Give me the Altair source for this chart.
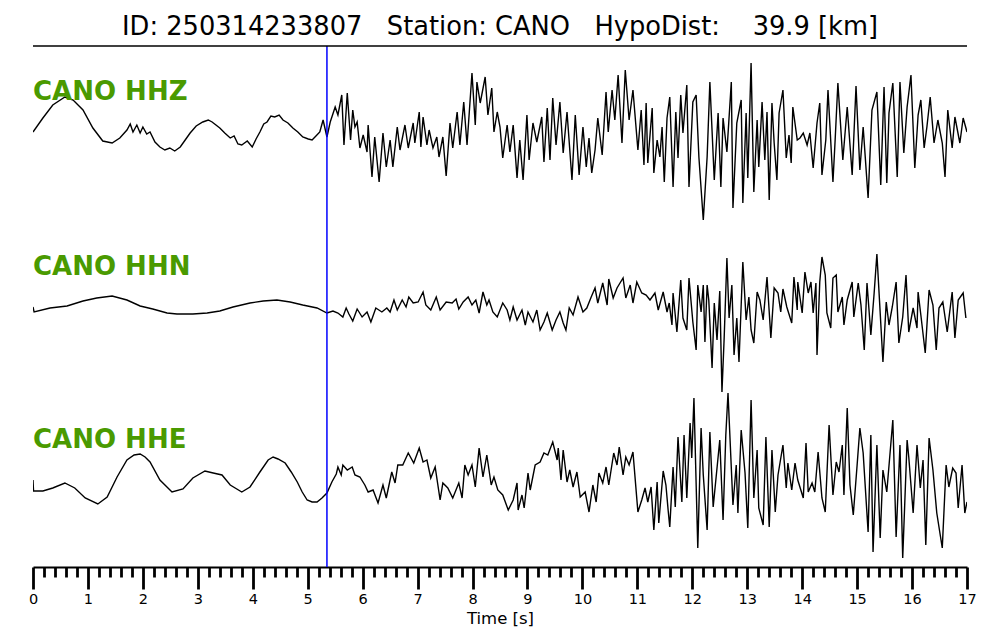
import altair as alt
import pandas as pd

TITLE = "ID: 250314233807\u00a0\u00a0\u00a0Station: CANO\u00a0\u00a0\u00a0HypoDist:\u00a0\u00a0\u00a0\u00a039.9 [km]"
channels = ["CANO HHZ", "CANO HHN", "CANO HHE"]
offsets = [0, -180, -360]
pick_time = [5.35]
tick_values = [round(i * 0.2, 1) for i in range(86)]

# (time [s], amplitude)
hhz = [(0.00,-2),(0.18,12),(0.36,25),(0.58,33),(0.73,30),(0.91,20),(1.09,2),(1.27,-11),(1.44,-13),(1.58,-8),(1.71,0),(1.77,6),(1.82,-2),(1.89,5),(1.95,-3),(2.00,3),(2.07,-4),(2.13,-2),(2.22,-12),(2.31,-17),(2.40,-20),(2.49,-18),(2.58,-21),(2.68,-17),(2.77,-10),(2.86,-3),(2.97,4),(3.09,8),(3.19,10),(3.26,8),(3.33,5),(3.40,2),(3.49,-3),(3.59,-8),(3.66,-6),(3.73,-14),(3.80,-15),(3.90,-11),(3.99,-17),(4.06,-9),(4.13,-2),(4.20,6),(4.26,8),(4.33,14),(4.40,13),(4.48,15),(4.55,10),(4.64,7),(4.73,2),(4.82,-2),(4.91,-7),(5.01,-9),(5.08,-10),(5.15,-6),(5.22,-2),(5.28,10),(5.35,-7),(5.41,8),(5.50,23),(5.55,15),(5.62,35),(5.66,-15),(5.72,37),(5.78,-10),(5.82,20),(5.86,3),(5.90,8),(5.95,-18),(6.01,-5),(6.08,-22),(6.10,5),(6.17,-47),(6.22,-7),(6.30,-52),(6.37,-3),(6.43,-37),(6.50,-10),(6.55,-37),(6.63,3),(6.68,-20),(6.77,5),(6.83,-18),(6.92,7),(6.95,-13),(7.03,18),(7.06,-17),(7.10,13),(7.17,-15),(7.21,0),(7.28,-18),(7.35,-7),(7.39,-27),(7.46,-7),(7.52,-46),(7.59,7),(7.64,-18),(7.72,18),(7.77,-15),(7.84,28),(7.90,-15),(7.99,57),(8.05,5),(8.08,48),(8.14,27),(8.23,53),(8.28,15),(8.35,42),(8.39,-2),(8.45,18),(8.50,3),(8.55,-28),(8.63,5),(8.68,-22),(8.74,5),(8.81,-48),(8.86,-10),(8.92,-50),(8.99,15),(9.03,-30),(9.10,7),(9.17,-12),(9.26,13),(9.30,-32),(9.36,22),(9.41,-30),(9.46,32),(9.52,-15),(9.59,28),(9.65,-23),(9.72,18),(9.81,-50),(9.87,15),(9.94,-45),(10.01,3),(10.07,-37),(10.12,-8),(10.17,-43),(10.23,-20),(10.28,12),(10.36,-25),(10.43,38),(10.47,-2),(10.54,40),(10.59,10),(10.65,55),(10.72,-13),(10.78,60),(10.85,10),(10.92,40),(11.01,-20),(11.07,20),(11.12,-35),(11.16,27),(11.19,-33),(11.27,22),(11.30,-43),(11.36,-10),(11.41,-27),(11.45,3),(11.49,-52),(11.54,12),(11.59,33),(11.65,-57),(11.70,18),(11.74,-28),(11.79,35),(11.83,-3),(11.90,45),(11.94,-57),(12.01,28),(12.07,35),(12.12,-27),(12.20,-90),(12.27,-27),(12.32,48),(12.40,-50),(12.47,17),(12.52,-57),(12.56,12),(12.63,-22),(12.71,48),(12.74,-78),(12.81,7),(12.89,30),(12.92,-73),(12.98,17),(13.01,-48),(13.07,67),(13.12,-62),(13.18,10),(13.21,-37),(13.27,28),(13.32,-30),(13.36,18),(13.40,-70),(13.45,27),(13.49,-13),(13.54,-50),(13.58,17),(13.65,40),(13.71,-28),(13.76,-5),(13.80,-33),(13.83,23),(13.91,-10),(13.96,-8),(14.02,-3),(14.09,-15),(14.14,-3),(14.20,-38),(14.27,7),(14.32,27),(14.36,-45),(14.43,-10),(14.47,40),(14.56,-52),(14.60,-10),(14.65,47),(14.74,-30),(14.82,23),(14.91,-45),(14.98,44),(15.05,-40),(15.11,3),(15.20,-68),(15.27,20),(15.36,38),(15.43,-55),(15.49,43),(15.54,-53),(15.58,17),(15.65,47),(15.73,-47),(15.78,48),(15.85,-23),(15.91,23),(15.98,55),(16.05,-38),(16.11,15),(16.16,30),(16.22,-18),(16.27,3),(16.33,33),(16.40,-13),(16.47,10),(16.55,-13),(16.60,-47),(16.65,20),(16.73,-18),(16.78,13),(16.87,-13),(16.93,12),(17.00,-2)]

hhn = [(0.00,3),(0.02,-2),(0.31,2),(0.62,4),(0.91,9),(1.16,12),(1.44,14),(1.71,10),(1.95,4),(2.18,1),(2.44,-3),(2.62,-4),(2.91,-4),(3.17,-3),(3.40,-1),(3.64,3),(3.95,7),(4.19,9),(4.44,10),(4.68,8),(4.91,5),(5.17,2),(5.35,-3),(5.46,-1),(5.55,-3),(5.64,-7),(5.70,2),(5.75,-4),(5.82,-11),(5.90,1),(5.99,-7),(6.08,-2),(6.15,-12),(6.24,2),(6.35,-2),(6.44,2),(6.50,-2),(6.57,10),(6.63,0),(6.72,10),(6.79,3),(6.84,13),(6.92,7),(7.01,8),(7.10,18),(7.15,5),(7.24,0),(7.34,13),(7.41,0),(7.52,8),(7.63,7),(7.70,11),(7.75,1),(7.83,8),(7.92,13),(7.99,5),(8.06,10),(8.12,-3),(8.19,18),(8.26,5),(8.30,10),(8.37,-2),(8.45,-7),(8.55,7),(8.63,0),(8.68,-10),(8.74,3),(8.81,-10),(8.90,0),(8.96,-15),(9.01,-2),(9.10,-12),(9.17,0),(9.23,-20),(9.30,-12),(9.36,-3),(9.45,-20),(9.52,-10),(9.59,-2),(9.65,-13),(9.70,-20),(9.76,2),(9.83,-5),(9.92,13),(10.01,-2),(10.08,2),(10.16,13),(10.23,22),(10.28,7),(10.37,27),(10.45,5),(10.48,31),(10.56,12),(10.63,22),(10.74,32),(10.79,12),(10.87,25),(10.92,7),(10.99,28),(11.08,17),(11.16,15),(11.23,10),(11.32,17),(11.38,0),(11.47,18),(11.54,-2),(11.58,7),(11.63,-15),(11.65,17),(11.72,-22),(11.79,30),(11.83,-8),(11.90,-20),(11.94,32),(12.01,-12),(12.07,-40),(12.10,25),(12.16,-2),(12.20,25),(12.23,-32),(12.27,25),(12.30,10),(12.36,-58),(12.40,7),(12.45,-30),(12.50,19),(12.54,-82),(12.58,-28),(12.63,52),(12.67,-8),(12.72,25),(12.76,-45),(12.81,-8),(12.85,-52),(12.92,48),(12.98,-10),(13.03,13),(13.07,-20),(13.12,-33),(13.18,18),(13.23,10),(13.29,-10),(13.36,33),(13.43,-28),(13.49,22),(13.56,17),(13.61,-2),(13.65,21),(13.72,3),(13.81,-13),(13.85,33),(13.91,0),(13.92,28),(14.00,-3),(14.05,38),(14.11,17),(14.16,28),(14.20,-3),(14.25,27),(14.27,-45),(14.32,28),(14.36,53),(14.42,35),(14.45,-3),(14.52,-18),(14.56,32),(14.62,35),(14.65,-2),(14.73,13),(14.76,-15),(14.82,10),(14.91,28),(14.94,-7),(15.02,27),(15.07,5),(15.13,-40),(15.18,27),(15.25,-25),(15.31,17),(15.36,56),(15.42,-3),(15.47,-52),(15.53,8),(15.58,-15),(15.64,3),(15.71,28),(15.76,-33),(15.83,-7),(15.89,35),(15.94,-22),(16.02,2),(16.09,-18),(16.11,18),(16.16,-5),(16.24,-43),(16.31,20),(16.38,5),(16.44,-40),(16.49,2),(16.56,8),(16.64,-22),(16.73,18),(16.78,-28),(16.84,10),(16.93,17),(16.98,-8)]

hhe = [(0.00,10),(0.01,-1),(0.18,-1),(0.36,2),(0.58,7),(0.76,2),(0.95,-8),(1.18,-14),(1.35,-7),(1.53,13),(1.71,30),(1.84,35),(1.95,36),(2.04,33),(2.13,28),(2.31,10),(2.53,-2),(2.73,1),(2.91,12),(3.13,19),(3.28,17),(3.44,15),(3.59,5),(3.80,-2),(3.95,3),(4.13,18),(4.28,30),(4.37,33),(4.46,31),(4.59,27),(4.70,18),(4.81,8),(4.90,-2),(4.99,-10),(5.08,-12),(5.17,-12),(5.26,-8),(5.35,-3),(5.44,8),(5.52,16),(5.55,23),(5.61,15),(5.64,25),(5.72,20),(5.81,23),(5.86,15),(5.95,13),(6.04,5),(6.10,-2),(6.19,0),(6.28,-13),(6.37,5),(6.43,-8),(6.53,18),(6.59,7),(6.64,25),(6.73,25),(6.83,37),(6.93,27),(7.03,42),(7.10,28),(7.17,30),(7.24,12),(7.32,23),(7.41,-10),(7.46,7),(7.55,2),(7.64,-8),(7.75,7),(7.81,-8),(7.86,25),(7.92,15),(7.99,25),(8.05,3),(8.12,42),(8.19,13),(8.26,35),(8.34,5),(8.39,13),(8.46,0),(8.55,-5),(8.65,-20),(8.74,-10),(8.81,7),(8.83,-20),(8.90,-5),(8.94,-18),(9.01,17),(9.05,0),(9.14,25),(9.23,28),(9.30,37),(9.37,35),(9.46,48),(9.54,30),(9.56,42),(9.61,10),(9.65,40),(9.72,8),(9.77,20),(9.83,3),(9.90,18),(9.96,-7),(10.05,-2),(10.12,-22),(10.19,5),(10.25,-12),(10.30,17),(10.37,7),(10.43,23),(10.48,5),(10.57,37),(10.63,25),(10.67,43),(10.74,15),(10.79,33),(10.85,25),(10.92,38),(11.01,-22),(11.08,-10),(11.14,2),(11.19,-12),(11.25,3),(11.30,-40),(11.36,8),(11.39,-33),(11.47,19),(11.52,5),(11.56,-20),(11.59,-37),(11.65,23),(11.69,-17),(11.74,53),(11.81,-12),(11.85,55),(11.90,-8),(11.96,67),(11.99,32),(12.03,92),(12.10,-58),(12.16,62),(12.20,15),(12.27,-40),(12.32,58),(12.38,-17),(12.45,22),(12.50,50),(12.56,-30),(12.61,55),(12.65,97),(12.74,-15),(12.80,25),(12.83,-23),(12.89,60),(12.96,17),(13.01,-38),(13.07,90),(13.12,-8),(13.18,40),(13.21,-18),(13.29,-35),(13.34,53),(13.40,-37),(13.45,40),(13.51,-22),(13.56,15),(13.65,45),(13.71,2),(13.74,27),(13.81,0),(13.87,27),(13.92,10),(14.02,-8),(14.07,47),(14.11,-2),(14.18,7),(14.23,-2),(14.29,38),(14.36,-8),(14.42,-22),(14.49,65),(14.56,-5),(14.62,28),(14.67,18),(14.73,45),(14.76,-5),(14.82,82),(14.87,5),(14.93,-25),(15.00,25),(15.05,62),(15.11,37),(15.20,-42),(15.25,55),(15.29,-62),(15.36,45),(15.42,-48),(15.47,20),(15.54,-2),(15.65,70),(15.71,-47),(15.78,45),(15.83,-68),(15.91,50),(15.94,33),(16.02,-23),(16.09,45),(16.15,2),(16.20,30),(16.25,-55),(16.31,52),(16.38,20),(16.45,-23),(16.55,-58),(16.62,25),(16.67,3),(16.74,22),(16.80,17),(16.84,-18),(16.91,25),(16.96,-23),(17.00,-12)]

rows = []
for name, off, trace in zip(channels, offsets, [hhz, hhn, hhe]):
    for t, a in trace:
        rows.append({"channel": name, "t": t, "amp": a, "y": a + off})
df = pd.DataFrame(rows)

W, H = 934, 521
FONT = "DejaVu Sans"
is_major = "abs(datum.value - round(datum.value)) < 0.001"

xscale = alt.Scale(domain=[0, 17], nice=False, zero=False)
yscale = alt.Scale(domain=[-437, 84], nice=False, zero=False)

lines = alt.Chart(df).mark_line(color="black", strokeWidth=1.4, clip=True).encode(
    x=alt.X("t:Q", scale=xscale, axis=alt.Axis(
        values=tick_values, tickCount=200, title="Time [s]", grid=False,
        domain=True, domainColor="black", domainWidth=2,
        ticks=True, tickColor="black", tickWidth=2.8,
        tickSize={"condition": {"test": is_major, "value": 22}, "value": 10},
        labelExpr=is_major + " ? format(datum.value, 'd') : ''",
        labelFont=FONT, labelFontSize=14.5, labelColor="black", labelPadding=3,
        labelFlush=False, labelOverlap=False, labelBound=False,
        titleFont=FONT, titleFontSize=16.5, titleFontWeight="normal", titleColor="black",
        titleBaseline="alphabetic", titleY=56,
    )),
    y=alt.Y("y:Q", scale=yscale, axis=None),
    detail="channel:N",
)

pick = alt.Chart(pd.DataFrame({"t": pick_time})).mark_rule(color="#0000ff", strokeWidth=1.5).encode(
    x=alt.X("t:Q", scale=xscale), y=alt.value(0), y2=alt.value(H)
)

top_rule = alt.Chart(pd.DataFrame({"a": [0]})).mark_rule(color="black", strokeWidth=1.5).encode(
    x=alt.value(0), x2=alt.value(W), y=alt.value(0)
)

title = alt.Chart(pd.DataFrame({"txt": [TITLE]})).mark_text(
    font=FONT, fontSize=25.7, color="black", align="center", baseline="middle"
).encode(text="txt:N", x=alt.value(W / 2), y=alt.value(-19))

label_y = [54, 229, 402]
labels = [
    alt.Chart(pd.DataFrame({"txt": [name]})).mark_text(
        font=FONT, fontSize=26, fontWeight="bold", color="#4a9a00", align="left", baseline="alphabetic"
    ).encode(text="txt:N", x=alt.value(0), y=alt.value(ly))
    for name, ly in zip(channels, label_y)
]

chart = alt.layer(lines, pick, top_rule, title, *labels).properties(
    width=W, height=H,
    padding={"left": 25, "top": 38, "right": 22, "bottom": 62},
    autosize=alt.AutoSizeParams(type="none"),
).configure_view(stroke=None)

chart.save("out.html", embed_options={"renderer": "svg", "actions": False})
